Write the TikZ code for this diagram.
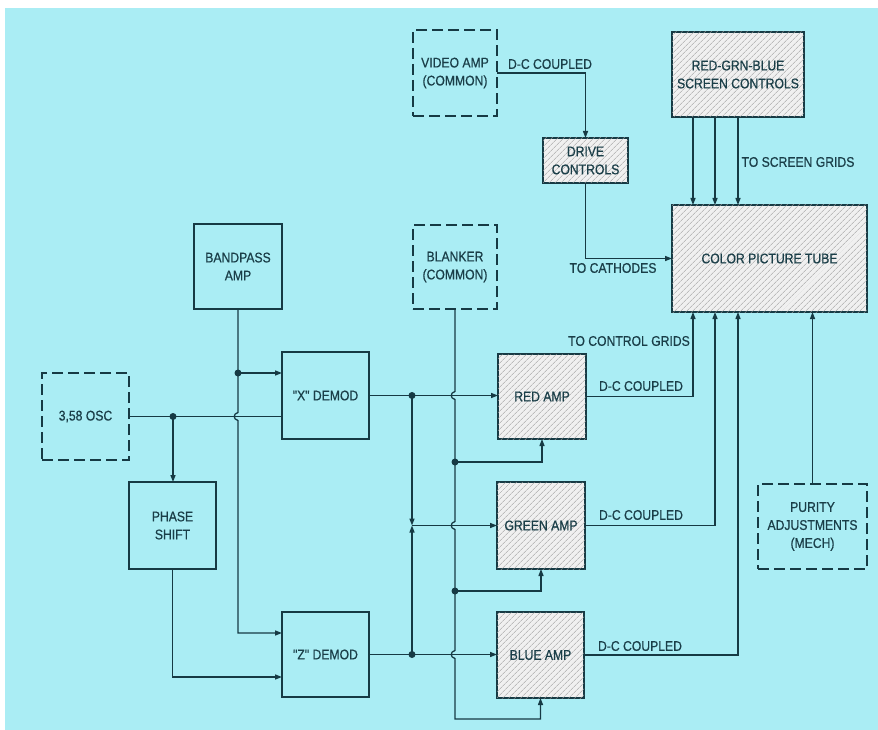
\documentclass[tikz,border=0pt]{standalone}
\usepackage{fontspec}
\newfontfamily\lblfont[FakeStretch=0.87,FakeBold=0.6]{Liberation Sans}
\usetikzlibrary{arrows.meta,patterns.meta,calc}
\definecolor{bgc}{RGB}{170,237,244}
\definecolor{ink}{RGB}{22,58,68}
\definecolor{txt}{RGB}{26,62,72}
\tikzset{
 box/.style={draw=ink, line width=1.6pt, inner sep=0pt, outer sep=0pt,
   font=\lblfont\fontsize{14}{18}\selectfont, text=txt, align=center},
 solidbox/.style={box},
 dashbox/.style={box, dash pattern=on 11pt off 5pt},
 hatchbox/.style={box, fill=gray!12,
   postaction={pattern={Lines[angle=45,distance=4pt,line width=0.6pt]}, pattern color=gray!75}},
 wire/.style={draw=ink, line width=1.3pt},
 arr/.style={wire, -{Triangle[length=7pt,width=5pt]}},
 lbl/.style={font=\lblfont\fontsize{14}{18}\selectfont, text=txt, inner sep=0pt},
 dot/.style={circle, fill=ink, inner sep=0pt, minimum size=7pt},
}
\begin{document}
\begin{tikzpicture}[x=1pt,y=-1pt]
\useasboundingbox (0,0) rectangle (878,730);
\fill[white] (0,0) rectangle (878,730);
\fill[bgc] (5,8) rectangle (878,730);

% boxes
\node[dashbox, minimum width=84pt, minimum height=86pt] (video) at (455,73) {VIDEO AMP\\(COMMON)};
\node[hatchbox, minimum width=85pt, minimum height=45pt] (drive) at (585.5,160.5) {DRIVE\\CONTROLS};
\node[hatchbox, minimum width=132pt, minimum height=85pt] (rgb) at (738,74.5) {RED-GRN-BLUE\\SCREEN CONTROLS};
\node[hatchbox, minimum width=195pt, minimum height=107pt] (tube) at (769.5,258.5) {COLOR PICTURE TUBE};
\node[dashbox, minimum width=84pt, minimum height=84pt] (blanker) at (455,267) {BLANKER\\(COMMON)};
\node[solidbox, minimum width=88pt, minimum height=85pt] (bandpass) at (238,266.5) {BANDPASS\\AMP};
\node[dashbox, minimum width=87pt, minimum height=87pt] (osc) at (85.5,416.5) {3,58 OSC};
\node[solidbox, minimum width=87pt, minimum height=87pt] (xdemod) at (325.5,395.5) {"X" DEMOD};
\node[solidbox, minimum width=87pt, minimum height=87pt] (phase) at (172.5,525.5) {PHASE\\SHIFT};
\node[solidbox, minimum width=87pt, minimum height=85pt] (zdemod) at (325.5,654.5) {"Z" DEMOD};
\node[hatchbox, minimum width=88pt, minimum height=85pt] (red) at (542,396.5) {RED AMP};
\node[hatchbox, minimum width=88pt, minimum height=87pt] (green) at (541,525.5) {GREEN AMP};
\node[hatchbox, minimum width=87pt, minimum height=86pt] (blue) at (540.5,655) {BLUE AMP};
\node[dashbox, minimum width=109pt, minimum height=85pt] (purity) at (812.5,526.5) {PURITY\\ADJUSTMENTS\\(MECH)};

% labels
\node[lbl] (l1) at (550,64) {D-C COUPLED};
\node[lbl] (l2) at (613,268) {TO CATHODES};
\node[lbl] (l3) at (798,162) {TO SCREEN GRIDS};
\node[lbl] (l4) at (629,341) {TO CONTROL GRIDS};
\node[lbl] (l5) at (641,386) {D-C COUPLED};
\node[lbl] (l6) at (641,515) {D-C COUPLED};
\node[lbl] (l7) at (640,646) {D-C COUPLED};

% helper coordinates
\coordinate (s1) at ($(rgb.south)+(-45,0)$);
\coordinate (s2) at ($(rgb.south)+(-23,0)$);
\coordinate (s3) at ($(rgb.south)+(0,0)$);
\coordinate (b1) at ($(tube.south)+(-76.5,0)$);
\coordinate (b2) at ($(tube.south)+(-54.5,0)$);
\coordinate (b3) at ($(tube.south)+(-31.5,0)$);
\coordinate (xin1) at ($(xdemod.west)+(0,-22.5)$);
\coordinate (xin2) at ($(xdemod.west)+(0,21)$);
\coordinate (zin1) at ($(zdemod.west)+(0,-21.5)$);
\coordinate (zin2) at ($(zdemod.west)+(0,22.5)$);
\coordinate (o1) at ($(osc.east)+(44,0)$);
\coordinate (bp1) at (bandpass.south |- xin1);
\coordinate (h0) at (bandpass.south |- xin2);
\coordinate (j1) at ($(xdemod.east)+(43,0)$);
\coordinate (j2) at ($(zdemod.east)+(43,0)$);
\coordinate (jg) at (j1 |- green.west);
\coordinate (h1) at (blanker.south |- xdemod.east);
\coordinate (h2) at (blanker.south |- green.west);
\coordinate (h3) at (blanker.south |- zdemod.east);
\coordinate (d1) at ($(blanker.south)+(0,153)$);
\coordinate (d2) at ($(blanker.south)+(0,282)$);
\coordinate (bl) at ($(blanker.south)+(0,410)$);

% top connectors
\draw[arr] (video.east) -| (drive.north);
\draw[arr] (drive.south) |- (tube.west);
\draw[arr] (s1) -- (s1 |- tube.north);
\draw[arr] (s2) -- (s2 |- tube.north);
\draw[arr] (s3) -- (s3 |- tube.north);

% oscillator and demods
\draw[wire] (osc.east) -- (xin2);
\draw[arr] (o1) -- (o1 |- phase.north);
\draw[arr] (phase.south) |- (zin2);
\draw[arr] (bandpass.south) -- ([yshift=4pt]h0)
  .. controls ([xshift=-5pt,yshift=3pt]h0) and ([xshift=-5pt,yshift=-3pt]h0) .. ([yshift=-4pt]h0)
  |- (zin1);
\draw[arr] (bp1) -- (xin1);

% demods to amps
\draw[arr] (xdemod.east) -- (xdemod.east -| red.west);
\draw[arr] (zdemod.east) -- (zdemod.east -| blue.west);
\draw[arr] (j1) -- (jg);
\draw[arr] (j2) -- (jg);
\draw[arr] (jg) -- (green.west);

% blanker
\draw[arr] (blanker.south) -- ([yshift=4pt]h1)
  .. controls ([xshift=-5pt,yshift=3pt]h1) and ([xshift=-5pt,yshift=-3pt]h1) .. ([yshift=-4pt]h1)
  -- ([yshift=4pt]h2)
  .. controls ([xshift=-5pt,yshift=3pt]h2) and ([xshift=-5pt,yshift=-3pt]h2) .. ([yshift=-4pt]h2)
  -- ([yshift=4pt]h3)
  .. controls ([xshift=-5pt,yshift=3pt]h3) and ([xshift=-5pt,yshift=-3pt]h3) .. ([yshift=-4pt]h3)
  -- (bl) -| (blue.south);
\draw[arr] (d1) -| (red.south);
\draw[arr] (d2) -| (green.south);

% amps to tube
\draw[arr] (red.east) -| (b1);
\draw[arr] (green.east) -| (b2);
\draw[arr] (blue.east) -| (b3);
\draw[arr] (purity.north) -- (purity.north |- tube.south);

% junction dots
\node[dot] (n1) at (bp1) {};
\node[dot] (n2) at (o1) {};
\node[dot] (n3) at (j1) {};
\node[dot] (n4) at (j2) {};
\node[dot] (n5) at (d1) {};
\node[dot] (n6) at (d2) {};
\end{tikzpicture}
\end{document}
